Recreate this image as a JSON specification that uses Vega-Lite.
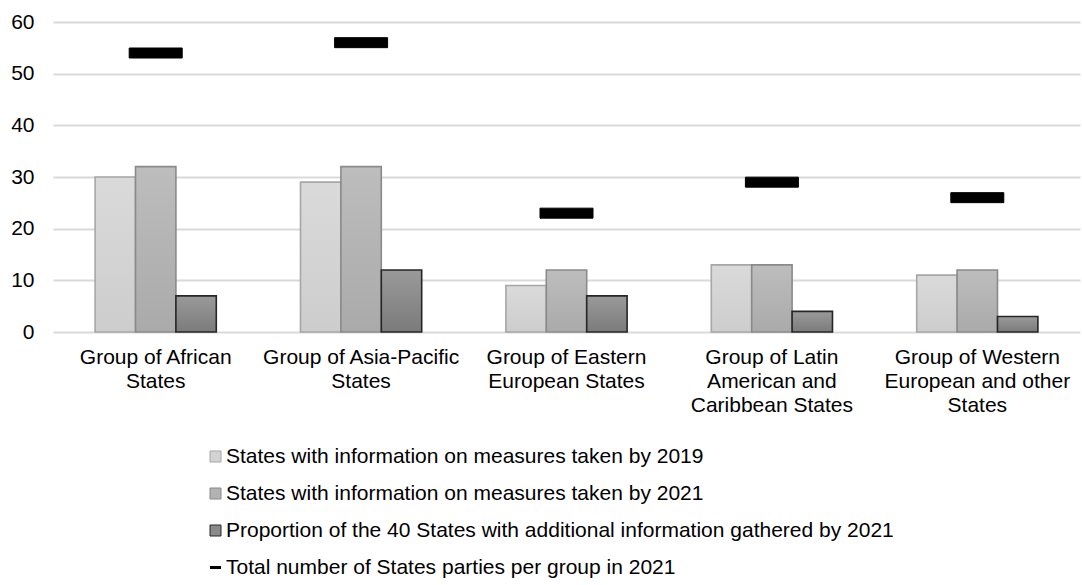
{
  "$schema": "https://vega.github.io/schema/vega-lite/v6.json",
  "width": 1027,
  "height": 310,
  "autosize": {"type": "none"},
  "padding": {"left": 53, "top": 22, "right": 2, "bottom": 253},
  "background": "white",
  "config": {
    "font": "Liberation Sans",
    "view": {"stroke": null}
  },
  "data": {
    "values": [
      {"group": "Group of African States", "series": "States with information on measures taken by 2019", "value": 30},
      {"group": "Group of African States", "series": "States with information on measures taken by 2021", "value": 32},
      {"group": "Group of African States", "series": "Proportion of the 40 States with additional information gathered by 2021", "value": 7},
      {"group": "Group of African States", "series": "Total number of States parties per group in 2021", "value": 54},
      {"group": "Group of Asia-Pacific States", "series": "States with information on measures taken by 2019", "value": 29},
      {"group": "Group of Asia-Pacific States", "series": "States with information on measures taken by 2021", "value": 32},
      {"group": "Group of Asia-Pacific States", "series": "Proportion of the 40 States with additional information gathered by 2021", "value": 12},
      {"group": "Group of Asia-Pacific States", "series": "Total number of States parties per group in 2021", "value": 56},
      {"group": "Group of Eastern European States", "series": "States with information on measures taken by 2019", "value": 9},
      {"group": "Group of Eastern European States", "series": "States with information on measures taken by 2021", "value": 12},
      {"group": "Group of Eastern European States", "series": "Proportion of the 40 States with additional information gathered by 2021", "value": 7},
      {"group": "Group of Eastern European States", "series": "Total number of States parties per group in 2021", "value": 23},
      {"group": "Group of Latin American and Caribbean States", "series": "States with information on measures taken by 2019", "value": 13},
      {"group": "Group of Latin American and Caribbean States", "series": "States with information on measures taken by 2021", "value": 13},
      {"group": "Group of Latin American and Caribbean States", "series": "Proportion of the 40 States with additional information gathered by 2021", "value": 4},
      {"group": "Group of Latin American and Caribbean States", "series": "Total number of States parties per group in 2021", "value": 29},
      {"group": "Group of Western European and other States", "series": "States with information on measures taken by 2019", "value": 11},
      {"group": "Group of Western European and other States", "series": "States with information on measures taken by 2021", "value": 12},
      {"group": "Group of Western European and other States", "series": "Proportion of the 40 States with additional information gathered by 2021", "value": 3},
      {"group": "Group of Western European and other States", "series": "Total number of States parties per group in 2021", "value": 26}
    ]
  },
  "encoding": {
    "x": {
      "field": "group",
      "type": "nominal",
      "sort": null,
      "scale": {"paddingInner": 0.41, "paddingOuter": 0.205},
      "axis": {
        "title": null,
        "domain": false,
        "ticks": false,
        "labelAngle": 0,
        "labelFontSize": 21,
        "labelColor": "#000000",
        "labelPadding": 14,
        "labelBaseline": "top",
        "labelLineHeight": 24,
        "labelLimit": 300,
        "labelExpr": "datum.label == 'Group of African States' ? ['Group of African', 'States'] : datum.label == 'Group of Asia-Pacific States' ? ['Group of Asia-Pacific', 'States'] : datum.label == 'Group of Eastern European States' ? ['Group of Eastern', 'European States'] : datum.label == 'Group of Latin American and Caribbean States' ? ['Group of Latin', 'American and', 'Caribbean States'] : ['Group of Western', 'European and other', 'States']"
      }
    },
    "y": {
      "field": "value",
      "type": "quantitative",
      "scale": {"domain": [0, 60], "nice": false},
      "axis": {
        "title": null,
        "values": [0, 10, 20, 30, 40, 50, 60],
        "domain": false,
        "ticks": false,
        "grid": true,
        "gridColor": "#d9d9d9",
        "gridWidth": 2,
        "labelFontSize": 21,
        "labelColor": "#000000",
        "labelPadding": 19
      }
    }
  },
  "layer": [
    {
      "transform": [{"filter": "datum.series != 'Total number of States parties per group in 2021'"}],
      "mark": {"type": "bar", "strokeWidth": 1.6},
      "encoding": {
        "xOffset": {
          "field": "series",
          "type": "nominal",
          "sort": null,
          "scale": {"paddingInner": 0, "paddingOuter": 0}
        },
        "fill": {
          "field": "series",
          "type": "nominal",
          "sort": null,
          "scale": {
            "domain": [
              "States with information on measures taken by 2019",
              "States with information on measures taken by 2021",
              "Proportion of the 40 States with additional information gathered by 2021",
              "Total number of States parties per group in 2021"
            ],
            "range": ["#d3d3d3", "#b3b3b3", "#8a8a8a", "#000000"]
          },
          "legend": {
            "title": null,
            "orient": "none",
            "legendX": 152,
            "legendY": 424,
            "direction": "vertical",
            "labelFontSize": 21,
            "labelColor": "#000000",
            "labelLimit": 900,
            "labelOffset": 0,
            "rowPadding": 15,
            "symbolSize": 121,
            "symbolType": "square",
            "symbolStrokeWidth": 1,
            "encode": {
              "symbols": {
                "update": {
                  "shape": {"signal": "datum.value == 'Total number of States parties per group in 2021' ? 'stroke' : 'square'"},
                  "strokeWidth": {"signal": "datum.value == 'Total number of States parties per group in 2021' ? 3 : 1"}
                }
              }
            }
          },
          "condition": [
            {"test": "datum.series == 'States with information on measures taken by 2019'", "value": {"gradient": "linear", "x1": 0, "y1": 0, "x2": 0, "y2": 1, "stops": [{"offset": 0, "color": "#dadada"}, {"offset": 1, "color": "#cdcdcd"}]}},
            {"test": "datum.series == 'States with information on measures taken by 2021'", "value": {"gradient": "linear", "x1": 0, "y1": 0, "x2": 0, "y2": 1, "stops": [{"offset": 0, "color": "#bdbdbd"}, {"offset": 1, "color": "#aaaaaa"}]}},
            {"test": "datum.series == 'Proportion of the 40 States with additional information gathered by 2021'", "value": {"gradient": "linear", "x1": 0, "y1": 0, "x2": 0, "y2": 1, "stops": [{"offset": 0, "color": "#9a9a9a"}, {"offset": 1, "color": "#7b7b7b"}]}}
          ]
        },
        "stroke": {
          "field": "series",
          "type": "nominal",
          "sort": null,
          "scale": {
            "domain": [
              "States with information on measures taken by 2019",
              "States with information on measures taken by 2021",
              "Proportion of the 40 States with additional information gathered by 2021",
              "Total number of States parties per group in 2021"
            ],
            "range": ["#a6a6a6", "#8a8a8a", "#262626", "#000000"]
          },
          "legend": {
            "title": null,
            "orient": "none",
            "legendX": 152,
            "legendY": 424,
            "direction": "vertical",
            "labelFontSize": 21,
            "labelColor": "#000000",
            "labelLimit": 900,
            "labelOffset": 0,
            "rowPadding": 15,
            "symbolSize": 121,
            "symbolType": "square",
            "symbolStrokeWidth": 1,
            "encode": {
              "symbols": {
                "update": {
                  "shape": {"signal": "datum.value == 'Total number of States parties per group in 2021' ? 'stroke' : 'square'"},
                  "strokeWidth": {"signal": "datum.value == 'Total number of States parties per group in 2021' ? 3 : 1"}
                }
              }
            }
          }
        }
      }
    },
    {
      "transform": [{"filter": "datum.series == 'Total number of States parties per group in 2021'"}],
      "mark": {"type": "tick", "size": 53, "thickness": 10, "opacity": 1},
      "encoding": {
        "fill": {"field": "series", "type": "nominal"},
        "stroke": {"field": "series", "type": "nominal"}
      }
    }
  ]
}
